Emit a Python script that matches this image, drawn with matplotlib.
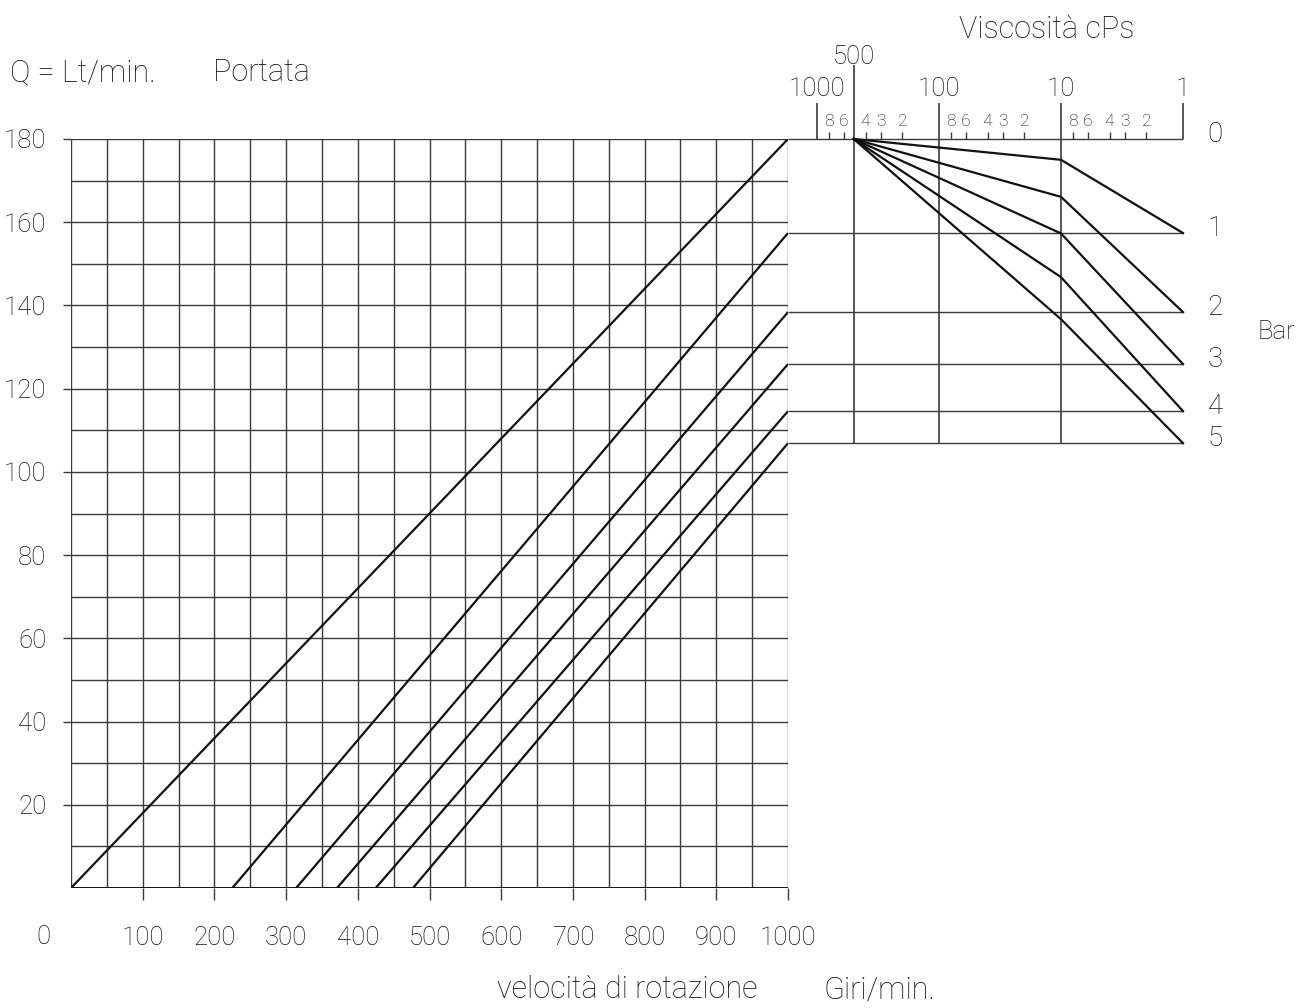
import matplotlib
matplotlib.use("Agg")
import matplotlib.pyplot as plt

# ---- data ----
# pressure levels (Bar 0..5) -> flow in Lt/min at 1000 rpm
bar_names = ["0", "1", "2", "3", "4", "5"]
flow_at_1000 = [180, 157.4, 138.4, 125.9, 114.6, 106.9]
# rpm where each pressure line meets Q = 0
rpm_at_zero = [0, 225, 314, 371, 425, 477]

# viscosity nomogram: lines leave 500 cPs at Q=180, bend at 10 cPs, end at 1 cPs
visc_start = 500
visc_bend = 10
visc_end = 1
flow_at_bend = [175.0, 166.1, 157.3, 146.8, 136.7]   # bars 1..5

rpm_ticks = [100, 200, 300, 400, 500, 600, 700, 800, 900, 1000]
flow_ticks = [20, 40, 60, 80, 100, 120, 140, 160, 180]
visc_major = [1000, 100, 10, 1]
visc_minor = [800, 600, 400, 300, 200, 80, 60, 40, 30, 20, 8, 6, 4, 3, 2]

num_font = ["Roboto", "DejaVu Sans"]
txt_font = ["Roboto", "DejaVu Sans"]
wt = "light"
ink = "#111111"
grid_col = "#3a3a3a"
NUM = 18.5
TXT = 22

fig = plt.figure(figsize=(13, 10.08), dpi=100)

# left panel: flow vs speed
ax = fig.add_axes([71 / 1300, 1 - 888 / 1008, 717 / 1300, 749 / 1008])
ax.set_xlim(0, 1000)
ax.set_ylim(0, 180)
for s in ax.spines.values():
    s.set_visible(False)

for x in range(0, 1001, 50):
    ax.vlines(x, 0, 180, color=grid_col, lw=1.0)
for y in range(10, 181, 10):
    ax.hlines(y, 0, 1000, color=grid_col, lw=1.0)
ax.hlines(0, 0, 1000, color=ink, lw=1.4)

for x0, q in zip(rpm_at_zero, flow_at_1000):
    ax.plot([x0, 1000], [0, q], color=ink, lw=1.6, solid_capstyle="butt")

ax.set_xticks(rpm_ticks)
ax.set_xticklabels([str(t) for t in rpm_ticks], family=num_font, fontsize=NUM, weight=wt)
ax.set_yticks(flow_ticks)
ax.set_yticklabels([str(t) for t in flow_ticks], family=num_font, fontsize=NUM, weight=wt)
ax.tick_params(axis="x", length=8.5, width=1, color=grid_col, pad=19, labelcolor=ink)
ax.tick_params(axis="y", length=5.8, width=1, color=grid_col, pad=12, labelcolor=ink)
ax.text(-39, -11.8, "0", ha="center", va="center", family=num_font, fontsize=NUM,
        weight=wt, color=ink)

ax.text(-85, 196, "Q = Lt/min.", ha="left", va="center", family=txt_font, fontsize=TXT,
        weight=wt, color=ink)
ax.text(198, 196, "Portata", ha="left", va="center", family=txt_font, fontsize=TXT,
        weight=wt, color=ink)
ax.text(594, -24.5, "velocità di rotazione", ha="left", va="center", family=txt_font,
        fontsize=TXT, weight=wt, color=ink)
ax.text(1050, -24.5, "Giri/min.", ha="left", va="center", family=txt_font, fontsize=TXT,
        weight=wt, color=ink)

# right panel: viscosity correction (log scale, decreasing)
vx = fig.add_axes([788 / 1300, 1 - 888 / 1008, 395 / 1300, 749 / 1008])
vx.set_xscale("log")
vx.set_xlim(10 ** 3.2377, 1)
vx.set_ylim(0, 180)
vx.axis("off")

bottom = min(flow_at_1000)
for q in flow_at_1000:
    vx.hlines(q, 10 ** 3.2377, 1, color=grid_col, lw=1.0, clip_on=False)

for v in [100, 10]:
    vx.vlines(v, bottom, 188.7, color=grid_col, lw=1.2, clip_on=False)
for v in [1000, 1]:
    vx.vlines(v, 180, 188.7, color=grid_col, lw=1.2, clip_on=False)
vx.vlines(visc_start, bottom, 197.8, color=grid_col, lw=1.2, clip_on=False)
for v in visc_minor:
    vx.vlines(v, 180, 181.6, color=grid_col, lw=1.0, clip_on=False)
    vx.text(v, 184.2, str(v)[0], ha="center", va="center", family=num_font,
            fontsize=12.5, weight=wt, color=ink, clip_on=False)
for v in visc_major:
    vx.text(v, 191.9, str(v), ha="center", va="center", family=num_font,
            fontsize=NUM, weight=wt, color=ink, clip_on=False)
vx.text(visc_start, 199.8, str(visc_start), ha="center", va="center", family=num_font,
        fontsize=NUM, weight=wt, color=ink, clip_on=False)

for qb, qe in zip(flow_at_bend, flow_at_1000[1:]):
    vx.plot([visc_start, visc_bend, visc_end], [180, qb, qe], color=ink, lw=1.6,
            clip_on=False, solid_joinstyle="miter")

for name, q in zip(bar_names, flow_at_1000):
    vx.text(0.5465, q + 1.2, name, ha="center", va="center", family=num_font,
            fontsize=20, weight=wt, color=ink, clip_on=False)
vx.text(0.2473, 133.6, "Bar", ha="left", va="center", family=num_font,
        fontsize=NUM, weight=wt, color=ink, clip_on=False)
vx.text(13.0, 206.2, "Viscosità cPs", ha="center", va="center", family=txt_font,
        fontsize=TXT, weight=wt, color=ink, clip_on=False)

fig.savefig("out.png", dpi=100, facecolor="white")
